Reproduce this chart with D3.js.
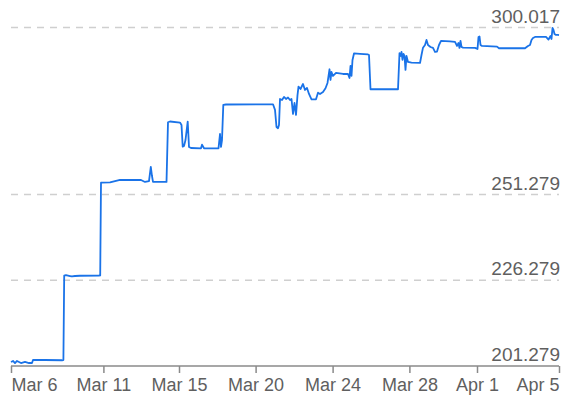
<!DOCTYPE html>
<html>
<head>
<meta charset="utf-8">
<script src="https://cdn.jsdelivr.net/npm/d3@7"></script>
<style>
  body { margin: 0; background: #fff; }
  svg { display: block; font-family: Arial, "Liberation Sans", sans-serif; }
</style>
</head>
<body>
<svg id="chart" width="582" height="406"></svg>
<script>
// sample position (trading-time steps) and price
const steps = [0, 1, 2, 3, 4, 5, 7, 9, 10.5, 11, 17, 25.5, 26.2, 26.6, 27.5, 29.5, 30.5, 32, 34.5, 44, 44.6,
  45, 45.3, 49.5, 54.5, 65, 67, 69, 69.9, 70.5, 71, 74.5, 77.75, 78.5, 79.5, 84.5, 85.25, 85.85, 86.5, 87.25,
  88.35, 89, 90, 95, 95.5, 96.5, 103.75, 104.5, 105, 105.5, 106.15, 107.5, 131, 132, 132.75, 133.5, 134,
  134.5, 135.5, 136.5, 137.5, 138.5, 139.5, 140.25, 141, 141.75, 142.5, 143.25, 143.75, 144.75, 146, 147,
  148, 149, 150.25, 152.5, 153.5, 154.5, 156, 157.25, 158.25, 159.25, 159.75, 160.25, 161, 162.5, 166,
  168.5, 169.25, 169.75, 170.25, 170.75, 171.5, 174.5, 178.5, 179, 179.75, 193.5, 194.25, 194.75, 195.25,
  195.75, 196.25, 196.75, 197.25, 197.75, 198.5, 200.25, 204.5, 205.25, 206, 207, 207.75, 208.5, 209.75,
  211, 212, 213, 214, 215, 219.5, 222, 223, 223.75, 224.25, 224.75, 225.25, 226, 232, 233.25, 233.75,
  234.25, 234.75, 235.5, 243, 244, 257, 258.5, 259.5, 260.25, 261, 262, 267.5, 268.75, 269.75, 270.25,
  270.75, 271.25, 271.75, 272.5, 273.5, 274];
const prices = [202.45, 202.74, 202.15, 202.74, 202.45, 202.15, 202.45, 202.15, 202.15, 203.03, 203.03, 202.95,
  203.0, 227.62, 227.8, 227.53, 227.39, 227.53, 227.6, 227.68, 227.7,
  254.75, 254.75, 254.87, 255.54, 255.54, 254.96, 255.2, 259.33, 256.7, 254.96, 254.96, 254.96, 272.37, 272.6,
  272.3, 271.6, 265.26, 265.46, 267.2,
  272.55, 265.17, 264.87, 264.78, 265.84, 264.78, 264.78, 268.96, 265.17, 267.2, 277.42, 277.56, 277.62, 276,
  271, 270.62, 271.6,
  279.17, 278.88, 279.75, 279.17, 279.6, 278.88, 279.17, 274.79, 277.99, 274.5, 280.3, 282.76, 282.08, 283.55,
  281.79, 282.38, 280.63, 279.08, 279.08, 281.01, 280.63, 281.21, 282.29, 283.84, 287.83, 284.71, 287.05,
  285.88, 286.75, 286.46, 286.46, 285.3, 288.8, 285.88, 290.55, 292.44, 292.3, 292.15, 292.0, 282.0, 282.0,
  292.5, 291.71, 292.88, 290.55, 292.3, 291.71, 287.63, 291.71, 289.96, 289.76, 289.67, 292.0, 294.13, 294.92,
  296.38, 294.92, 294.34, 294.05, 292.88, 293.0, 294.92, 296.09, 295.95, 295.8, 294.63, 295.51, 294.05,
  296.09, 294.34, 294.13, 294.05, 293.76, 297.26, 297.4, 294.92, 294.63, 294.43, 293.96, 293.96, 294.63,
  294.92, 296.38, 296.96, 297.26, 297.26, 296.5, 297.55, 296.67, 299.88, 299.3, 298.13, 297.84, 297.84, 297.8];

const xTickSteps = [0, 46.2, 84, 122.3, 160.8, 199.2, 233, 274];
const xTickLabels = ["Mar 6", "Mar 11", "Mar 15", "Mar 20", "Mar 24", "Mar 28", "Apr 1", "Apr 5"];
const yTicks = [201.279, 226.279, 251.279, 300.017];

const svg = d3.select("#chart");
const plotLeft = 11, plotRight = 559, plotTop = 27.5, plotBottom = 366;

const x = d3.scaleLinear().domain([0, 274]).range([plotLeft, plotRight]);
const y = d3.scaleLinear().domain([201.279, 300.017]).range([plotBottom, plotTop]);

// dashed grid lines (the lowest tick sits on the axis)
svg.append("g")
  .selectAll("line")
  .data(yTicks.slice(1))
  .join("line")
  .attr("x1", plotLeft)
  .attr("x2", plotRight)
  .attr("y1", d => y(d))
  .attr("y2", d => y(d))
  .attr("stroke", "#cfcfcf")
  .attr("stroke-width", 1.5)
  .attr("stroke-dasharray", "7,6");

// y labels, right aligned above their lines
svg.append("g")
  .selectAll("text")
  .data(yTicks)
  .join("text")
  .attr("x", plotRight + 1)
  .attr("y", d => y(d) - 5)
  .attr("text-anchor", "end")
  .attr("font-size", 19)
  .attr("fill", "#5f5f5f")
  .text(d => d3.format(".3f")(d));

// x axis
const xAxis = d3.axisBottom(x)
  .tickValues(xTickSteps)
  .tickFormat((d, i) => xTickLabels[i])
  .tickSize(7)
  .tickPadding(5);

const gx = svg.append("g")
  .attr("transform", `translate(0,${plotBottom})`)
  .call(xAxis);
gx.select(".domain").attr("stroke", "#8a8a8a").attr("stroke-width", 1.5).attr("d", `M${plotLeft},0H${plotRight}`);
gx.selectAll(".tick line").attr("stroke", "#8a8a8a").attr("stroke-width", 1.5);
gx.selectAll(".tick text")
  .attr("font-size", 18)
  .attr("font-family", "Arial, 'Liberation Sans', sans-serif")
  .attr("fill", "#5f5f5f")
  .attr("text-anchor", (d, i) => i === 0 ? "start" : (i === xTickSteps.length - 1 ? "end" : "middle"));

// price line
const points = steps.map((s, i) => [s, prices[i]]);
svg.append("path")
  .datum(points)
  .attr("fill", "none")
  .attr("stroke", "#1a73e8")
  .attr("stroke-width", 1.8)
  .attr("stroke-linejoin", "round")
  .attr("d", d3.line().x(d => x(d[0])).y(d => y(d[1])));
</script>
</body>
</html>
